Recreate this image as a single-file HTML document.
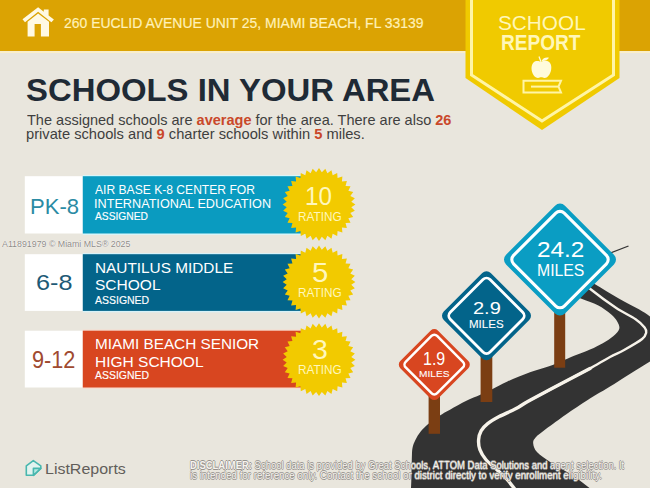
<!DOCTYPE html>
<html><head><meta charset="utf-8">
<style>
html,body{margin:0;padding:0;}
body{width:650px;height:488px;position:relative;overflow:hidden;background:#E9E6DD;font-family:"Liberation Sans",sans-serif;}
.a{position:absolute;white-space:nowrap;line-height:1;}
svg{position:absolute;left:0;top:0;}
.disc{text-shadow:0.6px 0 0 #96928D,-0.6px 0 0 #96928D,0 0.6px 0 #96928D,0 -0.6px 0 #96928D;}
</style></head><body>
<svg width="650" height="488" viewBox="0 0 650 488">
<rect x="0" y="0" width="650" height="51" fill="#DBA303"/>
<rect x="0" y="51.2" width="650" height="1.8" fill="#FBEFC8"/>
<path d="M465.5 0 H619.5 V78 L542 130 L465.5 78 Z" fill="#F0CA00"/>
<path d="M471.5 0 V75 L542 121 L613.5 75 V0" fill="none" stroke="#FFF5A6" stroke-width="3"/>
<path d="M38.1 7.3 L22.5 19.3 L25 22.2 L38.1 11.7 L51.4 22.2 L53.9 19.5 L48.6 15.4 V9.5 H43.8 V11.7 Z" fill="#FFF9E3"/>
<path d="M27.6 36.5 V21.7 L38.1 13.6 L49 21.7 V36.5 H40.9 V23.9 H34.6 V36.5 Z" fill="#FFF9E3"/>
<path d="M541 62 C538 60 532 60 531.5 68 C531.5 74 535 78 538 78 C539.5 78 540 77.3 541.3 77.3 C542.6 77.3 543 78 544.5 78 C548 78 551.5 73 551.3 67 C551 60 544 60 541 62 Z" fill="#FFFBDC"/>
<path d="M539 56.5 L541 62" stroke="#FFFBDC" stroke-width="1.2" fill="none"/>
<path d="M541.5 61 C543 58 546 57 549 57.8 C547 60.5 544 61.5 541.5 61 Z" fill="#FFFBDC"/>
<path d="M523.5 80.8 H561 L558.5 86.6 L561 92.4 H523.5 Z" fill="none" stroke="#FFF5A6" stroke-width="2"/>
<rect x="531" y="85.6" width="27.5" height="2" fill="#FFF5A6"/>
<rect x="24.8" y="176.2" width="58" height="57.30" fill="#FFFFFF"/><rect x="82.8" y="175.00" width="237" height="59.90" fill="#D8F6FA"/><rect x="82.8" y="176.2" width="237" height="57.30" fill="#0A9BC0"/><polygon transform="translate(319,204.5)" points="0.00,-36.40 2.82,-32.28 6.32,-35.85 8.39,-31.30 12.45,-34.20 13.69,-29.36 18.20,-31.52 18.58,-26.54 23.40,-27.88 22.91,-22.91 27.88,-23.40 26.54,-18.58 31.52,-18.20 29.36,-13.69 34.20,-12.45 31.30,-8.39 35.85,-6.32 32.28,-2.82 36.40,0.00 32.28,2.82 35.85,6.32 31.30,8.39 34.20,12.45 29.36,13.69 31.52,18.20 26.54,18.58 27.88,23.40 22.91,22.91 23.40,27.88 18.58,26.54 18.20,31.52 13.69,29.36 12.45,34.20 8.39,31.30 6.32,35.85 2.82,32.28 0.00,36.40 -2.82,32.28 -6.32,35.85 -8.39,31.30 -12.45,34.20 -13.69,29.36 -18.20,31.52 -18.58,26.54 -23.40,27.88 -22.91,22.91 -27.88,23.40 -26.54,18.58 -31.52,18.20 -29.36,13.69 -34.20,12.45 -31.30,8.39 -35.85,6.32 -32.28,2.82 -36.40,0.00 -32.28,-2.82 -35.85,-6.32 -31.30,-8.39 -34.20,-12.45 -29.36,-13.69 -31.52,-18.20 -26.54,-18.58 -27.88,-23.40 -22.91,-22.91 -23.40,-27.88 -18.58,-26.54 -18.20,-31.52 -13.69,-29.36 -12.45,-34.20 -8.39,-31.30 -6.32,-35.85 -2.82,-32.28" fill="#F2CA00"/><rect x="24.8" y="254.2" width="58" height="56.70" fill="#FFFFFF"/><rect x="82.8" y="253.00" width="237" height="59.30" fill="#D8F2F8"/><rect x="82.8" y="254.2" width="237" height="56.70" fill="#03648A"/><polygon transform="translate(319,282.0)" points="0.00,-36.40 2.82,-32.28 6.32,-35.85 8.39,-31.30 12.45,-34.20 13.69,-29.36 18.20,-31.52 18.58,-26.54 23.40,-27.88 22.91,-22.91 27.88,-23.40 26.54,-18.58 31.52,-18.20 29.36,-13.69 34.20,-12.45 31.30,-8.39 35.85,-6.32 32.28,-2.82 36.40,0.00 32.28,2.82 35.85,6.32 31.30,8.39 34.20,12.45 29.36,13.69 31.52,18.20 26.54,18.58 27.88,23.40 22.91,22.91 23.40,27.88 18.58,26.54 18.20,31.52 13.69,29.36 12.45,34.20 8.39,31.30 6.32,35.85 2.82,32.28 0.00,36.40 -2.82,32.28 -6.32,35.85 -8.39,31.30 -12.45,34.20 -13.69,29.36 -18.20,31.52 -18.58,26.54 -23.40,27.88 -22.91,22.91 -27.88,23.40 -26.54,18.58 -31.52,18.20 -29.36,13.69 -34.20,12.45 -31.30,8.39 -35.85,6.32 -32.28,2.82 -36.40,0.00 -32.28,-2.82 -35.85,-6.32 -31.30,-8.39 -34.20,-12.45 -29.36,-13.69 -31.52,-18.20 -26.54,-18.58 -27.88,-23.40 -22.91,-22.91 -23.40,-27.88 -18.58,-26.54 -18.20,-31.52 -13.69,-29.36 -12.45,-34.20 -8.39,-31.30 -6.32,-35.85 -2.82,-32.28" fill="#F2CA00"/><rect x="24.8" y="330.7" width="58" height="56.80" fill="#FFFFFF"/><rect x="82.8" y="329.50" width="237" height="59.40" fill="#F8DCD0"/><rect x="82.8" y="330.7" width="237" height="56.80" fill="#D84620"/><polygon transform="translate(319,359.7)" points="0.00,-36.40 2.82,-32.28 6.32,-35.85 8.39,-31.30 12.45,-34.20 13.69,-29.36 18.20,-31.52 18.58,-26.54 23.40,-27.88 22.91,-22.91 27.88,-23.40 26.54,-18.58 31.52,-18.20 29.36,-13.69 34.20,-12.45 31.30,-8.39 35.85,-6.32 32.28,-2.82 36.40,0.00 32.28,2.82 35.85,6.32 31.30,8.39 34.20,12.45 29.36,13.69 31.52,18.20 26.54,18.58 27.88,23.40 22.91,22.91 23.40,27.88 18.58,26.54 18.20,31.52 13.69,29.36 12.45,34.20 8.39,31.30 6.32,35.85 2.82,32.28 0.00,36.40 -2.82,32.28 -6.32,35.85 -8.39,31.30 -12.45,34.20 -13.69,29.36 -18.20,31.52 -18.58,26.54 -23.40,27.88 -22.91,22.91 -27.88,23.40 -26.54,18.58 -31.52,18.20 -29.36,13.69 -34.20,12.45 -31.30,8.39 -35.85,6.32 -32.28,2.82 -36.40,0.00 -32.28,-2.82 -35.85,-6.32 -31.30,-8.39 -34.20,-12.45 -29.36,-13.69 -31.52,-18.20 -26.54,-18.58 -27.88,-23.40 -22.91,-22.91 -23.40,-27.88 -18.58,-26.54 -18.20,-31.52 -13.69,-29.36 -12.45,-34.20 -8.39,-31.30 -6.32,-35.85 -2.82,-32.28" fill="#F2CA00"/>
<path d="M575.00 272.00 C578.27 274.00 587.23 279.55 594.60 284.00 C601.97 288.45 611.82 294.48 619.20 298.70 C626.58 302.92 633.43 306.08 638.90 309.30 C644.37 312.52 647.15 314.22 652.00 318.00 C656.85 321.78 665.33 329.67 668.00 332.00 L668.00 352.00 C665.00 353.58 659.67 355.73 650.00 361.50 C640.33 367.27 620.38 380.18 610.00 386.60 C599.62 393.02 595.03 395.37 587.70 400.00 C580.37 404.63 572.92 409.60 566.00 414.40 C559.08 419.20 551.27 424.95 546.20 428.80 C541.13 432.65 537.77 435.05 535.60 437.50 C533.43 439.95 532.93 441.03 533.20 443.50 C533.47 445.97 534.13 449.05 537.20 452.30 C540.27 455.55 545.60 459.10 551.60 463.00 C557.60 466.90 566.88 471.53 573.20 475.70 C579.52 479.87 585.03 484.62 589.50 488.00 C593.97 491.38 598.25 494.67 600.00 496.00 L409.00 500.00 C409.33 498.00 410.53 494.67 411.00 488.00 C411.47 481.33 411.55 466.67 411.80 460.00 C412.05 453.33 411.90 451.33 412.50 448.00 C413.10 444.67 414.07 442.70 415.40 440.00 C416.73 437.30 418.37 434.47 420.50 431.80 C422.63 429.13 424.95 426.73 428.20 424.00 C431.45 421.27 436.37 417.78 440.00 415.40 C443.63 413.02 445.60 412.13 450.00 409.70 C454.40 407.27 461.35 403.30 466.40 400.80 C471.45 398.30 475.93 396.68 480.30 394.70 C484.67 392.72 488.08 391.10 492.60 388.90 C497.12 386.70 501.17 384.27 507.40 381.50 C513.63 378.73 522.13 375.18 530.00 372.30 C537.87 369.42 547.93 366.67 554.60 364.20 C561.27 361.73 564.10 359.95 570.00 357.50 C575.90 355.05 584.53 351.88 590.00 349.50 C595.47 347.12 598.88 345.45 602.80 343.20 C606.72 340.95 610.77 338.37 613.50 336.00 C616.23 333.63 618.53 331.33 619.20 329.00 C619.87 326.67 618.87 324.45 617.50 322.00 C616.13 319.55 614.27 317.10 611.00 314.30 C607.73 311.50 602.82 307.80 597.90 305.20 C592.98 302.60 587.82 301.07 581.50 298.70 C575.18 296.33 563.58 292.28 560.00 291.00 Z" fill="#333333"/><path d="M575.00 275.00 C577.72 277.45 584.48 284.25 591.30 289.70 C598.12 295.15 608.52 302.78 615.90 307.70 C623.28 312.62 630.82 315.92 635.60 319.20 C640.38 322.48 642.83 325.18 644.60 327.40 C646.37 329.62 646.62 330.57 646.20 332.50 C645.78 334.43 645.78 336.08 642.10 339.00 C638.42 341.92 629.45 347.00 624.10 350.00 C618.75 353.00 615.68 353.92 610.00 357.00 C604.32 360.08 596.67 364.83 590.00 368.50 C583.33 372.17 580.00 373.70 570.00 379.00 C560.00 384.30 536.67 396.75 530.00 400.30" fill="none" stroke="#F7F3EA" stroke-width="2.4" stroke-linecap="round"/><path d="M590.00 368.50 C586.67 370.25 580.00 373.70 570.00 379.00 C560.00 384.30 539.07 395.33 530.00 400.30 C520.93 405.27 520.73 406.08 515.60 408.80 C510.47 411.52 503.85 414.13 499.20 416.60 C494.55 419.07 490.72 421.23 487.70 423.60 C484.68 425.97 482.62 428.10 481.10 430.80 C479.58 433.50 478.80 436.65 478.60 439.80 C478.40 442.95 478.70 446.42 479.90 449.70 C481.10 452.98 482.95 456.15 485.80 459.50 C488.65 462.85 493.50 466.52 497.00 469.80 C500.50 473.08 503.97 476.17 506.80 479.20 C509.63 482.23 511.80 485.20 514.00 488.00 C516.20 490.80 519.00 494.67 520.00 496.00" fill="none" stroke="#F7F3EA" stroke-width="3.4" stroke-linecap="round"/><path d="M600 257 L628.5 246" stroke="#333333" stroke-width="1.3"/>
<rect x="554.2" y="300" width="11" height="67.7" fill="#7B3E13"/><rect x="480.6" y="350" width="11.7" height="52" fill="#7B3E13"/><rect x="428.6" y="390" width="11.4" height="43.8" fill="#7B3E13"/><g transform="translate(434.3,364.6) rotate(45)"><rect x="-26.57" y="-26.57" width="53.13" height="53.13" rx="5" fill="#D84620"/><rect x="-22.24" y="-22.24" width="44.49" height="44.49" rx="4" fill="none" stroke="#FFFFFF" stroke-width="2.5"/></g><g transform="translate(486.5,315.8) rotate(45)"><rect x="-33.22" y="-33.22" width="66.45" height="66.45" rx="6" fill="#03648A"/><rect x="-28.12" y="-28.12" width="56.24" height="56.24" rx="5" fill="none" stroke="#FFFFFF" stroke-width="2.8"/></g><g transform="translate(560,259.6) rotate(45)"><rect x="-41.65" y="-41.65" width="83.30" height="83.30" rx="7" fill="#0A9DC3"/><rect x="-35.84" y="-35.84" width="71.68" height="71.68" rx="6" fill="none" stroke="#FFFFFF" stroke-width="3.1"/></g>
<path d="M33.3 460.6 L40.8 465.9 V468.4 L33.4 475.3 H26.3 V465.9 Z" fill="#E2F3EF" stroke="#48B7AE" stroke-width="1.6" stroke-linejoin="round"/><path d="M33.4 475.3 V468.4 H40.8 Z" fill="#B5E8E2" stroke="#48B7AE" stroke-width="1.6" stroke-linejoin="round"/>
</svg>
<div class="a" style="left:64.21px;top:16.19px;font-size:14.06px;font-weight:normal;color:#FFF1B8;transform:scaleX(0.9933);transform-origin:0 0;-webkit-text-stroke:0.2px #FFF1B8;">260 EUCLID AVENUE UNIT 25, MIAMI BEACH, FL 33139</div>
<div class="a" style="left:497.65px;top:14.38px;font-size:19.43px;font-weight:normal;color:#FFF7B8;transform:scaleX(1.0693);transform-origin:0 0;">SCHOOL</div>
<div class="a" style="left:501.41px;top:31.65px;font-size:21.16px;font-weight:bold;color:#FFF7B8;transform:scaleX(0.9007);transform-origin:0 0;">REPORT</div>
<div class="a" style="left:25.50px;top:73.66px;font-size:32.18px;font-weight:bold;color:#1F2A35;transform:scaleX(1.0215);transform-origin:0 0;">SCHOOLS IN YOUR AREA</div>
<div class="a" style="left:26.60px;top:112.53px;font-size:14.20px;font-weight:normal;color:#3F3F3F;transform:scaleX(1.0237);transform-origin:0 0;">The assigned schools are <b style="color:#C9482A">average</b> for the area. There are also <b style="color:#C9482A">26</b></div>
<div class="a" style="left:25.56px;top:127.43px;font-size:14.20px;font-weight:normal;color:#3F3F3F;transform:scaleX(1.0351);transform-origin:0 0;">private schools and <b style="color:#C9482A">9</b> charter schools within <b style="color:#C9482A">5</b> miles.</div>
<div class="a" style="left:29.59px;top:195.70px;font-size:21.55px;font-weight:normal;color:#2B8BA4;transform:scaleX(1.0248);transform-origin:0 0;">PK-8</div>
<div class="a" style="left:36.43px;top:271.19px;font-size:22.93px;font-weight:normal;color:#1E5A76;transform:scaleX(1.1017);transform-origin:0 0;">6-8</div>
<div class="a" style="left:32.10px;top:348.61px;font-size:23.49px;font-weight:normal;color:#A04A30;transform:scaleX(0.9242);transform-origin:0 0;">9-12</div>
<div class="a" style="left:94.60px;top:183.67px;font-size:12.17px;font-weight:normal;color:#FFFFFF;transform:scaleX(0.9950);transform-origin:0 0;">AIR BASE K-8 CENTER FOR</div>
<div class="a" style="left:93.76px;top:197.55px;font-size:12.17px;font-weight:normal;color:#FFFFFF;transform:scaleX(1.0417);transform-origin:0 0;">INTERNATIONAL EDUCATION</div>
<div class="a" style="left:94.79px;top:211.19px;font-size:11.30px;font-weight:normal;color:#FFFFFF;transform:scaleX(0.9070);transform-origin:0 0;-webkit-text-stroke:0.15px #FFFFFF;">ASSIGNED</div>
<div class="a" style="left:94.96px;top:260.67px;font-size:14.78px;font-weight:normal;color:#FFFFFF;transform:scaleX(1.0397);transform-origin:0 0;">NAUTILUS MIDDLE</div>
<div class="a" style="left:94.95px;top:277.54px;font-size:14.80px;font-weight:normal;color:#FFFFFF;transform:scaleX(1.0492);transform-origin:0 0;">SCHOOL</div>
<div class="a" style="left:94.79px;top:294.50px;font-size:11.59px;font-weight:normal;color:#FFFFFF;transform:scaleX(0.9052);transform-origin:0 0;-webkit-text-stroke:0.15px #FFFFFF;">ASSIGNED</div>
<div class="a" style="left:95.18px;top:336.07px;font-size:15.07px;font-weight:normal;color:#FFFFFF;transform:scaleX(1.0163);transform-origin:0 0;">MIAMI BEACH SENIOR</div>
<div class="a" style="left:95.17px;top:354.04px;font-size:15.10px;font-weight:normal;color:#FFFFFF;transform:scaleX(1.0270);transform-origin:0 0;">HIGH SCHOOL</div>
<div class="a" style="left:94.80px;top:370.38px;font-size:11.59px;font-weight:normal;color:#FFFFFF;transform:scaleX(0.9018);transform-origin:0 0;-webkit-text-stroke:0.15px #FFFFFF;">ASSIGNED</div>
<div class="a" style="left:305.16px;top:183.29px;font-size:26.05px;font-weight:normal;color:#FFF7BC;transform:scaleX(0.9292);transform-origin:0 0;">10</div>
<div class="a" style="left:297.62px;top:210.58px;font-size:12.03px;font-weight:normal;color:#FFF7BC;transform:scaleX(0.9814);transform-origin:0 0;">RATING</div>
<div class="a" style="left:311.90px;top:260.01px;font-size:26.93px;font-weight:normal;color:#FFF7BC;transform:scaleX(1.0887);transform-origin:0 0;">5</div>
<div class="a" style="left:297.62px;top:287.28px;font-size:12.03px;font-weight:normal;color:#FFF7BC;transform:scaleX(0.9814);transform-origin:0 0;">RATING</div>
<div class="a" style="left:311.91px;top:337.01px;font-size:26.93px;font-weight:normal;color:#FFF7BC;transform:scaleX(1.0575);transform-origin:0 0;">3</div>
<div class="a" style="left:297.62px;top:364.28px;font-size:12.03px;font-weight:normal;color:#FFF7BC;transform:scaleX(0.9814);transform-origin:0 0;">RATING</div>
<div class="a" style="left:536.96px;top:239.46px;font-size:22.37px;font-weight:normal;color:#FFFFFF;transform:scaleX(1.0865);transform-origin:0 0;">24.2</div>
<div class="a" style="left:537.06px;top:262.66px;font-size:15.97px;font-weight:normal;color:#FFFFFF;transform:scaleX(0.9893);transform-origin:0 0;">MILES</div>
<div class="a" style="left:472.84px;top:300.02px;font-size:17.10px;font-weight:normal;color:#FFFFFF;transform:scaleX(1.1697);transform-origin:0 0;">2.9</div>
<div class="a" style="left:468.82px;top:318.02px;font-size:11.74px;font-weight:normal;color:#FFFFFF;transform:scaleX(0.9824);transform-origin:0 0;-webkit-text-stroke:0.1px #FFFFFF;">MILES</div>
<div class="a" style="left:423.14px;top:349.81px;font-size:18.55px;font-weight:normal;color:#FFFFFF;transform:scaleX(0.8618);transform-origin:0 0;">1.9</div>
<div class="a" style="left:419.38px;top:368.52px;font-size:9.86px;font-weight:normal;color:#FFFFFF;transform:scaleX(1.0290);transform-origin:0 0;-webkit-text-stroke:0.1px #FFFFFF;">MILES</div>
<div class="a" style="left:2.40px;top:239.85px;font-size:8.70px;font-weight:normal;color:#8F8B87;transform:scaleX(1.0143);transform-origin:0 0;text-shadow:0 0 1px #fff,0 0 1px #fff;">A11891979 © Miami MLS® 2025</div>
<div class="a" style="left:44.77px;top:460.52px;font-size:15.51px;font-weight:normal;color:#625E5A;transform:scaleX(1.0312);transform-origin:0 0;">ListReports</div>
<div class="a disc" style="left:190.07px;top:460.86px;font-size:10.14px;font-weight:normal;color:#F6F4EF;transform:scaleX(0.9336);transform-origin:0 0;"><b>DISCLAIMER:</b> School data is provided by Great Schools, ATTOM Data Solutions and agent selection. It</div>
<div class="a disc" style="left:190.03px;top:470.66px;font-size:10.00px;font-weight:normal;color:#F6F4EF;transform:scaleX(0.9711);transform-origin:0 0;">is intended for reference only. Contact the school or district directly to verify enrollment eligibility.</div>

</body></html>
